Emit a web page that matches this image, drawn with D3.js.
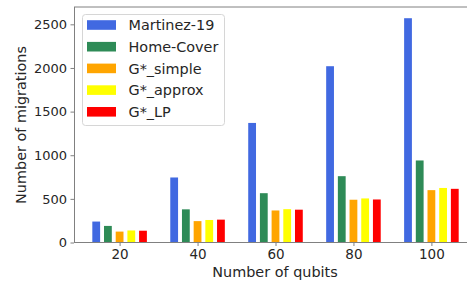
<!DOCTYPE html>
<html>
<head>
<meta charset="utf-8">
<script src="https://cdn.jsdelivr.net/npm/d3@7"></script>
<style>
  html, body { margin: 0; padding: 0; background: #fff; }
  svg { display: block; font-family: "DejaVu Sans", sans-serif; }
</style>
</head>
<body>
<svg id="chart" width="467" height="282"></svg>
<script>
const qubits = [20, 40, 60, 80, 100];
const seriesNames = ["Martinez-19", "Home-Cover", "G*_simple", "G*_approx", "G*_LP"];
const martinez = [240, 745, 1370, 2020, 2570];
const homeCover = [190, 380, 565, 760, 940];
const gSimple = [125, 245, 367, 490, 600];
const gApprox = [138, 258, 382, 505, 625];
const gLP = [135, 262, 376, 493, 615];
const seriesColors = ["#4169E1", "#2E8B57", "#FFA500", "#FFFF00", "#FF0000"];
const yTicks = [0, 500, 1000, 1500, 2000, 2500];

const seriesValues = [martinez, homeCover, gSimple, gApprox, gLP];
const offsets = [-6, -3, 0, 3, 6];
const barW = 2;

const svg = d3.select("#chart");
const x = d3.scaleLinear().domain([8.3, 111.7]).range([74, 477]);
const y = d3.scaleLinear().domain([0, 2698.5]).range([242.5, 7]);

const spineColor = "#808080";
const textColor = "#262626";
const fontFam = "DejaVu Sans";

// bars
seriesValues.forEach((vals, si) => {
  svg.append("g").selectAll("rect")
    .data(vals.map((v, i) => ({ q: qubits[i], v })))
    .join("rect")
    .attr("x", d => x(d.q + offsets[si] - barW / 2))
    .attr("width", d => x(d.q + offsets[si] + barW / 2) - x(d.q + offsets[si] - barW / 2))
    .attr("y", d => y(d.v))
    .attr("height", d => y(0) - y(d.v))
    .attr("fill", seriesColors[si]);
});

// x axis
const xAxis = d3.axisBottom(x).tickValues(qubits).tickSize(3.5).tickPadding(3.5).tickFormat(d3.format("d"));
const gx = svg.append("g").attr("transform", `translate(0,${y(0)})`).call(xAxis);
gx.select(".domain").remove();
gx.selectAll(".tick line").attr("stroke", spineColor);
gx.selectAll(".tick text").attr("fill", textColor).attr("font-size", 13.5).attr("font-family", fontFam);

// y axis
const yAxis = d3.axisLeft(y).tickValues(yTicks).tickSize(3.5).tickPadding(3.5).tickFormat(d3.format("d"));
const gy = svg.append("g").attr("transform", `translate(${x.range()[0]},0)`).call(yAxis);
gy.select(".domain").remove();
gy.selectAll(".tick line").attr("stroke", spineColor);
gy.selectAll(".tick text").attr("fill", textColor).attr("font-size", 13).attr("font-family", fontFam);

// spines
svg.append("line").attr("x1", 74.5).attr("x2", 74.5).attr("y1", 7).attr("y2", 243).attr("stroke", spineColor);
svg.append("line").attr("x1", 74).attr("x2", 467).attr("y1", 242.5).attr("y2", 242.5).attr("stroke", spineColor);
svg.append("line").attr("x1", 74).attr("x2", 467).attr("y1", 7).attr("y2", 7).attr("stroke", spineColor);

// axis labels
svg.append("text").attr("x", 275).attr("y", 277).attr("text-anchor", "middle")
  .attr("font-family", fontFam).attr("font-size", 14.4).attr("fill", textColor).text("Number of qubits");
svg.append("text").attr("transform", "translate(25.5,125) rotate(-90)").attr("text-anchor", "middle")
  .attr("font-family", fontFam).attr("font-size", 14.4).attr("fill", textColor).text("Number of migrations");

// legend
const lg = svg.append("g");
lg.append("rect").attr("x", 82.5).attr("y", 14.5).attr("width", 142).attr("height", 111)
  .attr("rx", 3).attr("fill", "#fff").attr("fill-opacity", 0.8).attr("stroke", "#d6d6d6");
seriesNames.forEach((name, i) => {
  const cy = 25 + i * 21.7;
  lg.append("rect").attr("x", 87).attr("y", cy - 4.8).attr("width", 29).attr("height", 9.6).attr("fill", seriesColors[i]);
  lg.append("text").attr("x", 128.5).attr("y", cy).attr("dy", "0.36em")
    .attr("font-family", fontFam).attr("font-size", 14.4).attr("fill", textColor).text(name);
});
</script>
</body>
</html>
